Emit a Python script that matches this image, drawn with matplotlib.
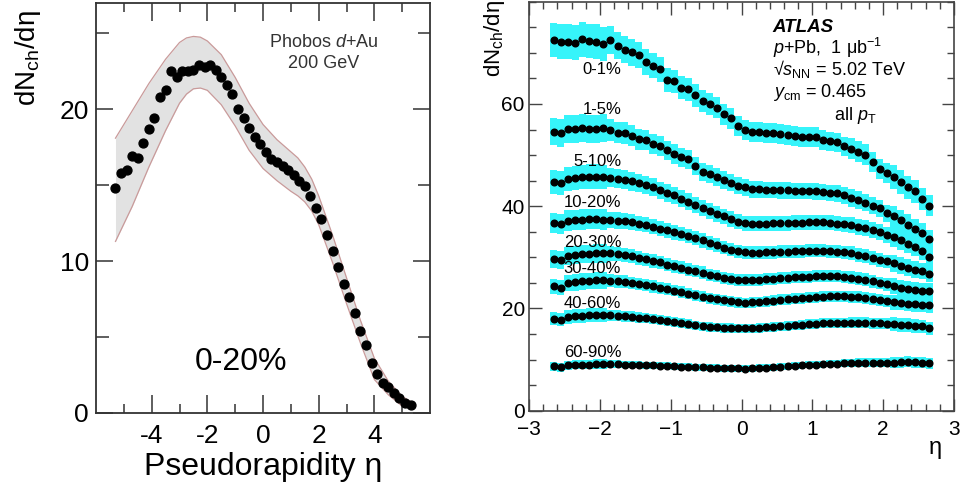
import numpy as np
import matplotlib
matplotlib.use("Agg")
import matplotlib.pyplot as plt
from matplotlib.ticker import MultipleLocator, FixedLocator

plt.rcParams['font.family'] = ['Liberation Sans', 'DejaVu Sans']
plt.rcParams['mathtext.fontset'] = 'custom'
plt.rcParams['mathtext.rm'] = 'Liberation Sans'
plt.rcParams['mathtext.it'] = 'Liberation Sans:italic'
plt.rcParams['mathtext.bf'] = 'Liberation Sans:bold'

# ---- PHOBOS d+Au 200 GeV, 0-20% centrality ----
phobos_eta = np.round(np.arange(-5.3, 5.31, 0.2), 2)
phobos_dndeta = [14.8, 15.8, 16.0, 16.95, 16.8, 17.8, 18.7, 19.4, 20.8, 21.3,
                 22.5, 22.1, 22.5, 22.5, 22.6, 22.9, 22.8, 22.9, 22.6, 22.1,
                 21.6, 21.0, 20.0, 19.4, 18.8, 18.2, 17.7, 17.2, 16.75, 16.5,
                 16.25, 16.0, 15.7, 15.3, 14.95, 14.3, 13.5, 12.8, 11.7, 10.7,
                 9.6, 8.5, 7.65, 6.56, 5.4, 4.5, 3.3, 2.55, 2.0, 1.73,
                 1.3, 0.97, 0.68, 0.53]

# systematic band (upper / lower edge)
band_eta = [-5.3, -4.7, -4.1, -3.5, -3.0, -2.75, -2.5, -2.25, -2.0, -1.5,
            -1.0, -0.5, 0.0, 0.5, 1.0, 1.25, 1.5, 1.75, 2.0, 2.5, 3.0, 3.5,
            4.0, 4.5, 5.0, 5.3]
band_hi = [18.1, 19.9, 21.7, 23.3, 24.4, 24.7, 24.8, 24.75, 24.5, 23.6,
           22.1, 20.4, 19.0, 18.0, 17.2, 16.8, 16.2, 15.4, 14.3, 11.7, 8.9, 6.1,
           3.6, 2.1, 1.1, 0.75]
band_lo = [11.3, 13.6, 16.2, 18.6, 20.4, 21.0, 21.35, 21.4, 21.25, 20.3,
           18.9, 17.3, 16.1, 15.3, 14.6, 14.3, 13.9, 13.3, 12.4, 9.9, 7.2, 4.6,
           2.2, 1.2, 0.45, 0.3]

# ---- ATLAS p+Pb 5.02 TeV, centrality classes ----
atlas_eta = np.round(np.arange(-2.65, 2.66, 0.1), 2)
centralities = ['0-1%', '1-5%', '5-10%', '10-20%', '20-30%', '30-40%', '40-60%', '60-90%']

cent_0_1 = [72.5, 72.2, 72.2, 72.0, 72.7, 72.3, 72.2, 71.7, 72.5, 71.4,
            70.6, 70.1, 69.6, 68.2, 67.5, 66.8, 64.7, 64.4, 63.2, 62.9,
            61.7, 60.6, 60.0, 59.3, 58.0, 57.2, 55.7, 54.9, 54.6, 54.6,
            54.4, 54.4, 54.1, 53.9, 53.8, 53.6, 53.5, 53.5, 53.0, 52.7,
            52.5, 51.7, 51.2, 50.7, 50.1, 48.7, 47.3, 46.5, 45.7, 44.7,
            43.7, 42.9, 41.4, 40.1]
cent_1_5 = [54.6, 54.3, 55.1, 55.1, 55.3, 55.1, 55.1, 55.3, 54.9, 54.4,
            54.3, 53.8, 53.1, 52.9, 52.2, 51.7, 50.9, 50.2, 49.6, 49.2,
            47.9, 46.6, 46.3, 45.7, 45.1, 44.6, 44.0, 43.7, 43.3, 43.3,
            43.2, 43.2, 43.1, 43.1, 43.0, 43.0, 43.0, 42.9, 42.8, 42.6,
            42.5, 42.1, 41.6, 41.2, 40.7, 40.1, 39.6, 38.6, 38.0, 37.3,
            36.4, 35.6, 34.8, 33.6]
cent_5_10 = [44.8, 44.5, 45.4, 45.6, 45.7, 45.8, 45.8, 45.7, 45.6, 45.4,
             45.2, 44.9, 44.5, 44.1, 43.7, 43.1, 42.6, 42.1, 41.5, 40.9,
             40.3, 39.6, 39.0, 38.5, 38.0, 37.5, 37.0, 36.7, 36.6, 36.6,
             36.6, 36.7, 36.7, 36.7, 36.8, 36.8, 36.9, 36.9, 36.9, 36.8,
             36.6, 36.5, 36.3, 36.0, 35.7, 35.3, 34.9, 34.4, 33.9, 33.4,
             32.7, 32.0, 31.3, 30.1]
cent_10_20 = [36.7, 36.5, 37.2, 37.3, 37.4, 37.5, 37.5, 37.4, 37.3, 37.2,
              37.1, 36.9, 36.6, 36.4, 36.0, 35.6, 35.3, 34.9, 34.6, 34.2,
              33.8, 33.3, 32.8, 32.4, 31.9, 31.5, 31.2, 31.0, 30.9, 30.9,
              31.0, 31.0, 31.1, 31.1, 31.2, 31.2, 31.3, 31.3, 31.3, 31.2,
              31.1, 31.0, 30.8, 30.5, 30.2, 29.9, 29.5, 29.2, 28.8, 28.4,
              28.0, 27.6, 27.3, 26.8]
cent_20_30 = [29.7, 29.5, 30.3, 30.5, 30.6, 30.7, 30.8, 30.8, 30.8, 30.7,
              30.5, 30.2, 29.9, 29.6, 29.3, 29.0, 28.6, 28.3, 28.0, 27.6,
              27.3, 27.0, 26.6, 26.3, 26.0, 25.8, 25.6, 25.5, 25.5, 25.6,
              25.7, 25.8, 25.9, 26.0, 26.1, 26.2, 26.2, 26.3, 26.3, 26.3,
              26.3, 26.2, 26.0, 25.8, 25.6, 25.3, 25.0, 24.7, 24.4, 24.1,
              23.9, 23.7, 23.5, 23.4]
cent_30_40 = [24.3, 24.1, 24.9, 25.1, 25.3, 25.4, 25.5, 25.5, 25.4, 25.3,
              25.2, 25.0, 24.8, 24.6, 24.3, 24.0, 23.8, 23.5, 23.2, 22.9,
              22.6, 22.3, 22.0, 21.8, 21.6, 21.4, 21.2, 21.1, 21.2, 21.3,
              21.4, 21.5, 21.7, 21.8, 21.9, 22.0, 22.1, 22.2, 22.3, 22.4,
              22.4, 22.4, 22.3, 22.2, 22.0, 21.8, 21.6, 21.4, 21.2, 21.1,
              20.9, 20.8, 20.7, 20.6]
cent_40_60 = [18.0, 17.8, 18.4, 18.5, 18.6, 18.7, 18.8, 18.8, 18.7, 18.6,
              18.5, 18.4, 18.2, 18.1, 17.9, 17.7, 17.5, 17.3, 17.1, 16.9,
              16.7, 16.5, 16.4, 16.3, 16.2, 16.2, 16.1, 16.1, 16.1, 16.2,
              16.3, 16.4, 16.5, 16.6, 16.7, 16.8, 16.9, 17.0, 17.1, 17.1,
              17.2, 17.2, 17.2, 17.2, 17.2, 17.1, 17.1, 17.0, 16.9, 16.8,
              16.7, 16.6, 16.5, 16.1]
cent_60_90 = [8.7, 8.5, 8.9, 9.0, 9.0, 9.0, 9.1, 9.1, 9.1, 9.1,
              9.0, 9.0, 9.0, 8.9, 8.9, 8.8, 8.8, 8.7, 8.6, 8.6,
              8.5, 8.5, 8.4, 8.4, 8.3, 8.3, 8.3, 8.2, 8.3, 8.4,
              8.4, 8.5, 8.6, 8.7, 8.8, 8.9, 9.0, 9.0, 9.1, 9.2,
              9.2, 9.3, 9.3, 9.4, 9.4, 9.4, 9.4, 9.4, 9.4, 9.5,
              9.6, 9.5, 9.4, 9.3]
atlas_series = [cent_0_1, cent_1_5, cent_5_10, cent_10_20,
                cent_20_30, cent_30_40, cent_40_60, cent_60_90]

# relative systematic uncertainty vs eta (central class) and per-class scale
rel_err_eta = [0.047] * 8 + [0.037] * 4 + [0.036] * 30 + [0.040] * 6 + [0.052] * 6
err_scale = [1.0, 1.05, 1.1, 1.15, 1.25, 1.35, 1.55, 2.2]

# label placement (eta, dN/deta)
label_pos = [(-2.24, 66.7), (-2.24, 58.9), (-2.38, 48.7), (-2.51, 40.7),
             (-2.51, 33.0), (-2.51, 27.8), (-2.51, 21.0), (-2.51, 11.4)]

fig = plt.figure(figsize=(9.61, 4.93), dpi=100)

# ---------------- left: PHOBOS ----------------
ax1 = fig.add_axes([0.0999, 0.1623, 0.3476, 0.8316])
fc = '#333333'
ax1.fill_between(band_eta, band_lo, band_hi, color='#e2e2e2', lw=0, zorder=1)
ax1.plot(band_eta, band_hi, color='#c99a9a', lw=0.9, zorder=2)
ax1.plot(band_eta, band_lo, color='#c99a9a', lw=0.9, zorder=2)
ax1.plot(phobos_eta, phobos_dndeta, 'o', color='black', ms=6.4, zorder=3)
ax1.set_xlim(-6, 6)
ax1.set_ylim(0, 27)
ax1.xaxis.set_major_locator(FixedLocator([-4, -2, 0, 2, 4]))
ax1.set_xticklabels(['-4', '-2', '0', '2', '4'])
ax1.xaxis.set_minor_locator(FixedLocator([-5, -3, -1, 1, 3, 5]))
ax1.yaxis.set_major_locator(FixedLocator([0, 10, 20]))
ax1.set_yticklabels(['0', '10', '20'])
ax1.yaxis.set_minor_locator(FixedLocator([5, 15, 25]))
ax1.tick_params(which='both', direction='in', top=True, right=True,
                color=fc, width=1.1, labelsize=19, labelcolor='black')
ax1.tick_params(axis='x', which='major', length=13, pad=8)
ax1.tick_params(axis='x', which='minor', length=6.5)
ax1.tick_params(axis='y', which='major', length=12, pad=5)
ax1.tick_params(axis='y', which='minor', length=9)
for s in ax1.spines.values():
    s.set_color(fc)
    s.set_linewidth(1.3)
ax1.set_xlabel('Pseudorapidity η', fontsize=23, labelpad=3)
fig.text(0.029, 0.98, 'dN$_{\\mathrm{ch}}$/dη', rotation=90, fontsize=20,
         ha='center', va='top')
ax1.text(2.17, 24.4, 'Phobos $d$+Au', fontsize=13, color='#333333',
         ha='center', va='center')
ax1.text(2.17, 23.0, '200 GeV', fontsize=13, color='#333333',
         ha='center', va='center')
ax1.text(-0.8, 3.35, '0-20%', fontsize=23, ha='center', va='center')

# ---------------- right: ATLAS ----------------
ax2 = fig.add_axes([0.5505, 0.1669, 0.4422, 0.8296])
gc = '#444444'
for vals, sc in zip(atlas_series, err_scale):
    vals = np.array(vals)
    err = vals * np.array(rel_err_eta) * sc
    ax2.bar(atlas_eta, 2 * err, bottom=vals - err, width=0.1,
            color='#36f4fa', lw=0, zorder=1)
    ax2.plot(atlas_eta, vals, 'o', color='black', ms=4.8, zorder=3)
for name, (lx, ly) in zip(centralities, label_pos):
    ax2.text(lx, ly, name, fontsize=12, ha='left', va='center', zorder=4)

ax2.set_xlim(-3, 3)
ax2.set_ylim(0, 80)
ax2.xaxis.set_major_locator(MultipleLocator(1))
ax2.xaxis.set_minor_locator(MultipleLocator(0.2))
ax2.yaxis.set_major_locator(FixedLocator([0, 20, 40, 60]))
ax2.yaxis.set_minor_locator(MultipleLocator(5))
ax2.tick_params(which='both', direction='in', top=True, right=True,
                color=gc, width=1.0, labelsize=15)
ax2.tick_params(which='major', length=9)
ax2.tick_params(which='minor', length=5)
ax2.tick_params(axis='x', pad=7)
ax2.tick_params(axis='y', pad=3)
for s in ax2.spines.values():
    s.set_color(gc)
    s.set_linewidth(1.2)
ax2.text(0.972, -0.09, 'η', transform=ax2.transAxes, fontsize=17,
         ha='right', va='center')
fig.text(0.515, 1.0, 'dN$_{\\mathrm{ch}}$/dη', rotation=90, fontsize=16,
         ha='center', va='top')

# info block, one line per text
info_size = 13
ax2.text(0.442, 74.0, 'ATLAS', fontsize=info_size + 0.5, fontweight='bold',
         fontstyle='italic', ha='left', va='baseline')
ax2.text(0.442, 69.7, '$p$+Pb,  1 μb$^{-1}$', fontsize=info_size,
         ha='left', va='baseline')
ax2.text(0.442, 65.6, '√$s_{\\mathrm{NN}}$ = 5.02 TeV', fontsize=info_size,
         ha='left', va='baseline')
ax2.text(0.442, 61.3, '$y_{\\mathrm{cm}}$ = 0.465', fontsize=info_size,
         ha='left', va='baseline')
ax2.text(1.30, 56.9, 'all $p_{\\mathrm{T}}$', fontsize=info_size,
         ha='left', va='baseline')

fig.savefig('out.png', dpi=100)
